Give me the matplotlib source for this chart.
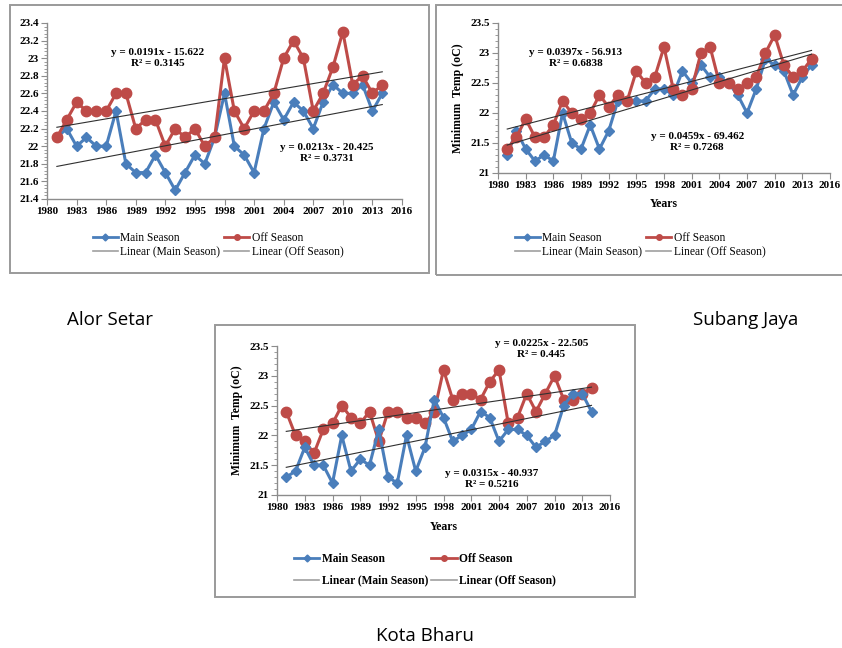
import numpy as np
import matplotlib
matplotlib.use("Agg")
import matplotlib.pyplot as plt
from matplotlib.lines import Line2D
from matplotlib.patches import Rectangle
from matplotlib.ticker import MultipleLocator, FuncFormatter

years = list(range(1981, 2015))

# Alor Setar
alor_main = [22.1, 22.2, 22.0, 22.1, 22.0, 22.0, 22.4, 21.8, 21.7, 21.7, 21.9, 21.7, 21.5, 21.7, 21.9, 21.8, 22.1,
             22.6, 22.0, 21.9, 21.7, 22.2, 22.5, 22.3, 22.5, 22.4, 22.2, 22.5, 22.7, 22.6, 22.6, 22.7, 22.4, 22.6]
alor_off = [22.1, 22.3, 22.5, 22.4, 22.4, 22.4, 22.6, 22.6, 22.2, 22.3, 22.3, 22.0, 22.2, 22.1, 22.2, 22.0, 22.1,
            23.0, 22.4, 22.2, 22.4, 22.4, 22.6, 23.0, 23.2, 23.0, 22.4, 22.6, 22.9, 23.3, 22.7, 22.8, 22.6, 22.7]
# Subang Jaya
subang_main = [21.3, 21.7, 21.4, 21.2, 21.3, 21.2, 22.0, 21.5, 21.4, 21.8, 21.4, 21.7, 22.2, 22.2, 22.2, 22.2, 22.4,
               22.4, 22.3, 22.7, 22.5, 22.8, 22.6, 22.6, 22.5, 22.3, 22.0, 22.4, 22.9, 22.8, 22.7, 22.3, 22.6, 22.8]
subang_off = [21.4, 21.6, 21.9, 21.6, 21.6, 21.8, 22.2, 22.0, 21.9, 22.0, 22.3, 22.1, 22.3, 22.2, 22.7, 22.5, 22.6,
              23.1, 22.4, 22.3, 22.4, 23.0, 23.1, 22.5, 22.5, 22.4, 22.5, 22.6, 23.0, 23.3, 22.8, 22.6, 22.7, 22.9]
# Kota Bharu
kota_main = [21.3, 21.4, 21.8, 21.5, 21.5, 21.2, 22.0, 21.4, 21.6, 21.5, 22.1, 21.3, 21.2, 22.0, 21.4, 21.8, 22.6,
             22.3, 21.9, 22.0, 22.1, 22.4, 22.3, 21.9, 22.1, 22.1, 22.0, 21.8, 21.9, 22.0, 22.5, 22.7, 22.7, 22.4]
kota_off = [22.4, 22.0, 21.9, 21.7, 22.1, 22.2, 22.5, 22.3, 22.2, 22.4, 21.9, 22.4, 22.4, 22.3, 22.3, 22.2, 22.4,
            23.1, 22.6, 22.7, 22.7, 22.6, 22.9, 23.1, 22.2, 22.3, 22.7, 22.4, 22.7, 23.0, 22.6, 22.6, 22.7, 22.8]

# trendline coefficients (slope, intercept) as printed
alor_fit_main = (0.0213, -20.425)
alor_fit_off = (0.0191, -15.622)
subang_fit_main = (0.0459, -69.462)
subang_fit_off = (0.0397, -56.913)
kota_fit_main = (0.0315, -40.937)
kota_fit_off = (0.0225, -22.505)

alor_eq_main = "y = 0.0213x - 20.425\nR² = 0.3731"
alor_eq_off = "y = 0.0191x - 15.622\nR² = 0.3145"
subang_eq_main = "y = 0.0459x - 69.462\nR² = 0.7268"
subang_eq_off = "y = 0.0397x - 56.913\nR² = 0.6838"
kota_eq_main = "y = 0.0315x - 40.937\nR² = 0.5216"
kota_eq_off = "y = 0.0225x - 22.505\nR² = 0.445"

station_names = ["Alor Setar", "Subang Jaya", "Kota Bharu"]

BLUE = "#4a7ebb"
RED = "#be4b48"
AXC = "#8c8c8c"
W, H = 842, 648

fig = plt.figure(figsize=(W / 100, H / 100), dpi=100)
serif = "Liberation Serif"


def ax_at(l, t, r, b):
    return fig.add_axes([l / W, 1 - b / H, (r - l) / W, (b - t) / H])


def frame(l, t, r, b):
    fig.add_artist(Rectangle((l / W, 1 - b / H), (r - l) / W, (b - t) / H,
                             transform=fig.transFigure, fill=False,
                             edgecolor="#9a9a9a", linewidth=1.4))


fmt = FuncFormatter(lambda v, p: ("%.1f" % v).rstrip("0").rstrip("."))


def panel(box, axbox, main, off, fit_m, fit_o, ylim, ymaj, ymin, eq_m, eq_m_pos, eq_o, eq_o_pos,
          ylabel, xlabel, leg_center, bold_leg, ylab_x, xlab_y, main_on_top=False, legspace=0.25):
    frame(*box)
    ax = ax_at(*axbox)
    x = np.array(years)
    ax.plot(x, main, color=BLUE, lw=2.2, marker="D", ms=5.5, zorder=4.5 if main_on_top else 3)
    ax.plot(x, off, color=RED, lw=2.2, marker="o", ms=7.5, zorder=4)
    for (a, c) in (fit_m, fit_o):
        ax.plot(x, a * x + c, color="#303030", lw=0.8, zorder=5)
    ax.set_xlim(1980, 2016)
    ax.set_ylim(*ylim)
    ax.xaxis.set_major_locator(MultipleLocator(3))
    ax.yaxis.set_major_locator(MultipleLocator(ymaj))
    ax.yaxis.set_minor_locator(MultipleLocator(ymin))
    ax.yaxis.set_major_formatter(fmt)
    for s in ("top", "right"):
        ax.spines[s].set_visible(False)
    for s in ("left", "bottom"):
        ax.spines[s].set_color(AXC)
        ax.spines[s].set_linewidth(1.0)
    ax.tick_params(axis="both", which="both", colors=AXC, labelcolor="black",
                   direction="out")
    ax.tick_params(axis="both", which="major", length=4, labelsize=8, pad=2)
    ax.tick_params(axis="y", which="minor", length=2)
    for lab in ax.get_xticklabels() + ax.get_yticklabels():
        lab.set_fontfamily(serif)
        lab.set_fontweight("bold")
    ax.text(*eq_m_pos, eq_m, ha="center", va="center", fontsize=8, fontfamily=serif,
            fontweight="bold", linespacing=1.3, clip_on=False, zorder=6)
    ax.text(*eq_o_pos, eq_o, ha="center", va="center", fontsize=8, fontfamily=serif,
            fontweight="bold", linespacing=1.3, clip_on=False, zorder=6)
    if ylabel:
        fig.text(ylab_x / W, 1 - ((axbox[1] + axbox[3]) / 2) / H, ylabel, rotation=90,
                 ha="center", va="center", fontsize=8.5, fontfamily=serif, fontweight="bold")
    if xlabel:
        fig.text(((axbox[0] + axbox[2]) / 2) / W, 1 - xlab_y / H, xlabel, ha="center",
                 va="center", fontsize=8.5, fontfamily=serif, fontweight="bold")
    handles = [
        Line2D([], [], color=BLUE, lw=2, marker="D", ms=3.5),
        Line2D([], [], color="#a0a0a0", lw=1.2),
        Line2D([], [], color=RED, lw=2, marker="o", ms=4),
        Line2D([], [], color="#a0a0a0", lw=1.2),
    ]
    labels = ["Main Season", "Linear (Main Season)", "Off Season", "Linear (Off Season)"]
    fig.legend(handles, labels, ncol=2, loc="center",
               bbox_to_anchor=(leg_center[0] / W, 1 - leg_center[1] / H),
               frameon=False, handlelength=2.2, handletextpad=0.2, columnspacing=0.3,
               labelspacing=legspace,
               prop={"family": serif, "size": 8.3, "weight": "bold" if bold_leg else "normal"})
    return ax


panel((10, 5, 429, 273), (47, 23, 402, 199), alor_main, alor_off, alor_fit_main, alor_fit_off,
      (21.4, 23.4), 0.2, 0.04, alor_eq_main, (2008.4, 21.92), alor_eq_off, (1991.2, 23.0),
      None, None, (218, 245), False, 0, 0)

panel((436, 5, 845, 275), (498, 23, 830, 173), subang_main, subang_off, subang_fit_main, subang_fit_off,
      (21, 23.5), 0.5, 0.1, subang_eq_main, (2001.6, 21.52), subang_eq_off, (1988.4, 22.91),
      "Minimum  Temp (oC)", "Years", (640, 245), False, 458, 204)

panel((215, 325, 635, 597), (277, 346, 610, 495), kota_main, kota_off, kota_fit_main, kota_fit_off,
      (21, 23.5), 0.5, 0.1, kota_eq_main, (2003.2, 21.27), kota_eq_off, (2008.6, 23.45),
      "Minimum  Temp (oC)", "Years", (425, 570), True, 237, 527, main_on_top=True, legspace=0.8)

label_pos = [(110, 320), (746, 320), (425, 636)]
for name, (px, py) in zip(station_names, label_pos):
    fig.text(px / W, 1 - py / H, name, ha="center", va="center", fontsize=13.5, fontfamily="Open Sans")

fig.savefig("out.png", dpi=100)
